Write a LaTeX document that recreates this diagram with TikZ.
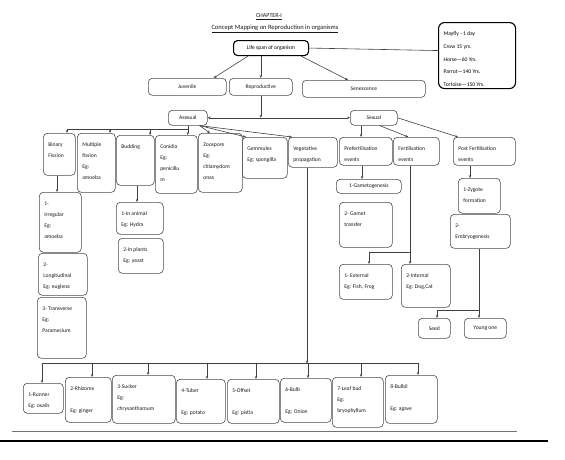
\documentclass[tikz,border=0pt]{standalone}
\usepackage{fontspec}
\setmainfont{Carlito}
\usepackage{tikz}
\usetikzlibrary{calc}
\usetikzlibrary{arrows.meta}
\colorlet{colbg}{white}
\colorlet{colfg}{black}
\colorlet{colbox}{colfg!70!colbg}
\colorlet{coltext}{colfg!90!colbg}
\colorlet{colline}{colfg!75!colbg}
\tikzstyle{cbox}=[draw=colbox, rounded corners=4pt, line width=0.6pt, anchor=north west, inner xsep=5pt, inner ysep=2pt, text=coltext, font=\fontsize{5.6}{11}\selectfont]
\tikzstyle{lbox}=[cbox, inner sep=0pt, align=center]
\tikzstyle{bigbox}=[draw=colfg, line width=1.1pt, text=colfg]
\tikzstyle{titlesty}=[text=coltext, font=\fontsize{6.5}{8}\selectfont]
\tikzstyle{edge}=[line width=0.6pt, colline]
\tikzstyle{arr}=[edge, -{Stealth[length=3pt,width=2.4pt]}]
\tikzstyle{rulesty}=[line width=0.8pt, colfg!55!colbg]
\tikzstyle{thickrule}=[line width=1.6pt, colfg]
% box text: width, height (in pt), content, set from the top
\newcommand{\cb}[3]{\parbox[c][\dimexpr#2pt-4pt\relax][t]{\dimexpr#1pt-10pt\relax}{\raggedright\rule{0pt}{11pt}#3}}

\begin{document}
\begin{tikzpicture}[x=1pt,y=-1pt]
      \useasboundingbox (0,0) rectangle (565,459);
      % Title
      \node[titlesty,font=\fontsize{6}{7}\selectfont] (chap) at (269,17) {\underline{CHAPTER-I}};
      \node[titlesty] (title) at (275,29) {\underline{Concept Mapping on Reproduction in organisms}};

      % Life span
      \node[lbox,bigbox,minimum width=75pt,minimum height=15pt] (life) at (233,40) {Life span of organism};
      \node[cbox,bigbox,rounded corners=6pt] (span) at (438,22) {\cb{77}{66}{\baselineskip=12.8pt Mayfly --1 day\\Crow 15 yrs.\\Horse---60 Yrs.\\Parrot---140 Yrs.\\Tortoise---150 Yrs.}};

      \node[lbox,minimum width=78pt,minimum height=17pt] (juv) at (148,78) {Juvenile};
      \node[lbox,minimum width=63pt,minimum height=17pt] (repro) at (229,78) {Reproductive};
      \node[lbox,minimum width=123pt,minimum height=17pt] (senes) at (302,80) {Senescence};

      \draw[edge] (life.east) -- ($(span.west)+(0,-5)$);
      \draw[arr] ($(life.south west)+(15,0)$) -- ($(juv.north east)+(-13,0)$);
      \draw[arr] (repro.north |- life.south) -- (repro.north);
      \draw[arr] ($(life.south east)+(-8,0)$) -- ($(senes.north west)+(46,0)$);

      % Asexual / Sexual
      \node[lbox,minimum width=39pt,minimum height=15pt] (asex) at (168,110) {Asexual};
      \node[lbox,minimum width=47pt,minimum height=15pt] (sex) at (350,110) {Sexual};
      \coordinate (rb) at (repro.south |- asex.east);
      \draw[arr] (repro.south) -- (rb);
      \draw[arr] (rb) -- (asex.east);
      \draw[arr] (rb) -- (sex.west);

      % Asexual methods
      \node[cbox] (binary) at (43,133) {\cb{32}{42}{Binary\\Fission}};
      \node[cbox] (multi) at (77,133) {\cb{38}{59}{Multiple\\fission\\Eg:\\amoeba}};
      \node[cbox] (budding) at (116,135) {\cb{38}{50}{Budding}};
      \node[cbox] (conidia) at (155,135) {\cb{42}{58}{Conidia\\Eg:\\penicillu\\m}};
      \node[cbox] (zoo) at (198,133) {\cb{44}{59}{Zoospore\\Eg:\\chlamydom\\onas}};
      \node[cbox] (gemm) at (242,137) {\cb{45}{41}{Gemmules\\Eg: spongilla}};
      \node[cbox] (veg) at (288,137) {\cb{49}{30}{Vegetative\\propagation}};

      \draw[arr] (asex.south) -- ++(0,4) -| ($(binary.north west)+(24,0)$);
      \draw[arr] (asex.south) -- ++(0,4) -| ($(multi.north west)+(33,0)$);
      \draw[arr] (asex.south) -- ++(0,4) -| ($(budding.north west)+(34,0)$);
      \draw[arr] (asex.south) -- (asex.south |- conidia.north);
      \draw[arr] ($(asex.south east)+(-8,0)$) -- ($(zoo.north west)+(12,0)$);
      \draw[arr] ($(asex.south east)+(-8,0)$) -- ($(gemm.north west)+(4,0)$);
      \draw[arr] ($(asex.south east)+(-8,0)$) -- ($(veg.north west)+(4,0)$);

      % Binary fission types
      \node[cbox] (irreg) at (39,192) {\cb{42}{60}{1-\\Irregular\\Eg:\\amoeba}};
      \node[cbox] (longi) at (38,253) {\cb{49}{42}{2-\\Longitudinal\\Eg: euglena}};
      \node[cbox] (trans) at (37,297) {\cb{49}{61}{3- Transverse\\Eg:\\Paramecium}};
      \draw[arr] ($(binary.south west)+(14,0)$) -- ($(irreg.north west)+(18,0)$);

      % Budding types
      \node[cbox] (animal) at (116,202) {\cb{47}{32}{1-In animal\\Eg: Hydra}};
      \node[cbox] (plants) at (118,238) {\cb{45}{35}{2-In plants\\Eg: yeast}};
      \draw[arr] ($(budding.south west)+(21,0)$) -- ($(animal.north west)+(21,0)$);

      % Sexual events
      \node[cbox] (prefert) at (339,137) {\cb{53}{28}{Prefertilisation\\events}};
      \node[cbox] (fert) at (393,137) {\cb{46}{28}{Fertilisation\\events}};
      \node[cbox] (postfert) at (453,137) {\cb{62}{28}{Post Fertilisation\\events}};
      \draw[arr] ($(sex.south west)+(11,0)$) -- ($(prefert.north west)+(22,0)$);
      \draw[arr] ($(sex.south)+(6,0)$) -- ($(fert.north)+(-8,0)$);
      \draw[arr] (sex.east) -- ($(postfert.north west)+(5,0)$);

      \node[lbox,minimum width=65pt,minimum height=14pt] (gameto) at (336,179) {1-Gametogenesis};
      \node[cbox] (gamtr) at (339,202) {\cb{53}{45}{2- Gamet\\transfer}};
      \draw[arr] ($(prefert.south west)+(23,0)$) -- ($(gameto.north west)+(26,0)$);

      \node[cbox] (ext) at (339,264) {\cb{53}{35}{1- External\\Eg: Fish, Frog}};
      \node[cbox] (int) at (401,264) {\cb{49}{43}{2-Internal\\Eg: Dog,Cat}};
      \coordinate (fb) at ($(int.north west)+(9,-12)$);
      \draw[arr] ($(fert.south west)+(17,0)$) -- ($(int.north west)+(9,0)$);
      \draw[arr] (fb) -| ($(ext.north west)+(30,0)$);

      \node[cbox] (zyg) at (458,178) {\cb{42}{35}{1-Zygote\\formation}};
      \node[cbox] (embryo) at (450,214) {\cb{60}{34}{2-\\Embryogenesis}};
      \draw[arr] ($(postfert.south west)+(17,0)$) -- ($(zyg.north west)+(12,0)$);

      \node[lbox,minimum width=32pt,minimum height=20pt] (seed) at (418,318) {Seed};
      \node[lbox,minimum width=42pt,minimum height=20pt] (young) at (464,318) {Young one};
      \coordinate (eb) at ($(young.north west)+(15,-8)$);
      \draw[arr] ($(embryo.south west)+(29,0)$) -- ($(young.north west)+(15,0)$);
      \draw[arr] (eb) -| ($(seed.north west)+(19,0)$);

      % Vegetative propagation types
      \node[cbox] (runner) at (23,383) {\cb{40}{30}{1-Runner\\Eg: oxalis}};
      \node[cbox] (rhiz) at (65,377) {\cb{46}{45}{2-Rhizome\\[11pt]Eg: ginger}};
      \node[cbox] (sucker) at (112,375) {\cb{63}{48}{3-Sucker\\Eg:\\chrysanthamum}};
      \node[cbox] (tuber) at (176,379) {\cb{49}{44}{4-Tuber\\[11pt]Eg: potato}};
      \node[cbox] (offset) at (227,379) {\cb{52}{44}{5-Offset\\[11pt]Eg: pistia}};
      \node[cbox] (bulb) at (280,378) {\cb{51}{44}{6-Bulb\\[11pt]Eg: Onion}};
      \node[cbox] (leaf) at (332,377) {\cb{51}{50}{7-Leaf bud\\Eg:\\bryophyllum}};
      \node[cbox] (bulbil) at (385,375) {\cb{52}{48}{8-Bulbil\\[11pt]Eg: agave}};

      \coordinate (vb) at ($(veg.south west)+(19,196)$);
      \draw[arr] ($(veg.south west)+(19,0)$) -- (vb);
      \draw[arr] (vb) -| ($(runner.north west)+(19,0)$);
      \draw[arr] (vb) -| ($(rhiz.north west)+(27,0)$);
      \draw[arr] (vb) -| ($(sucker.north west)+(36,0)$);
      \draw[arr] (vb) -| ($(tuber.north west)+(31,0)$);
      \draw[arr] (vb) -| ($(offset.north west)+(29,0)$);
      \draw[arr] (vb) -| ($(bulb.north west)+(28,0)$);
      \draw[arr] (vb) -| ($(leaf.north west)+(29,0)$);
      \draw[arr] (vb) -| ($(bulbil.north west)+(33,0)$);

      % Rules at the foot
      \coordinate (r1) at (12,431);
      \coordinate (r2) at (517,431);
      \coordinate (r3) at (0,441);
      \coordinate (r4) at (548,441);
      \draw[rulesty] (r1) -- (r2);
      \draw[thickrule] (r3) -- (r4);
    \end{tikzpicture}
\end{document}
